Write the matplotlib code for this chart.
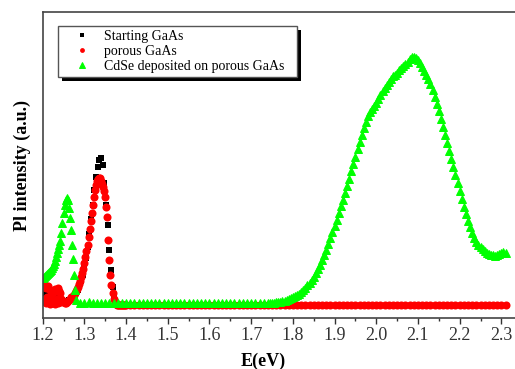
import numpy as np
import matplotlib
matplotlib.use("Agg")
import matplotlib.pyplot as plt
from matplotlib.ticker import MultipleLocator
from matplotlib.patches import Rectangle
from matplotlib.transforms import IdentityTransform

plt.rcParams['font.family'] = ['Liberation Serif', 'DejaVu Serif']

# Starting GaAs (black squares)
black_e = np.linspace(1.200, 1.400, 51)
black_i = [10, 14, 8, 12, 15, 9, 13, 11, 7, 10,
           6, 4, 3, 3, 3, 4, 5, 6, 7, 8,
           12, 15, 19, 24, 30, 38, 47, 58, 71, 86,
           100, 115, 128, 138, 145, 147, 140, 122, 100, 80,
           55, 35, 18, 7, 2, 0, 0, 0, 0, 0,
           0]

# porous GaAs (red circles)
red_e_noise = np.linspace(1.200, 1.245, 31)
red_i_noise = [18, 4, 19, 6, 20, 2, 17, 8, 19, 3,
               16, 1, 9, 5, 10, 2, 12, 4, 14, 1,
               16, 3, 15, 6, 17, 2, 14, 5, 12, 3, 6]
red_e_peak = np.linspace(1.2475, 1.3975, 61)
red_i_peak = [5, 3, 2, 2, 3, 4, 5, 6, 8,
              8, 9, 10, 12, 14, 16, 18, 21, 24, 28,
              32, 36, 42, 48, 54, 60, 68, 76, 84, 92,
              100, 108, 115, 120, 124, 126, 127, 127, 124, 121,
              118, 114, 108, 98, 88, 65, 45, 30, 20, 12,
              6, 3, 1,
              0, 0, 0, 0, 0, 0, 0, 0, 0]
red_e_tail = np.linspace(1.40, 2.31, 92)
red_i_tail = [0] * 92

# CdSe deposited on porous GaAs (green triangles)
green_e1 = np.linspace(1.200, 1.280, 33)
green_i1 = [27, 28, 29, 30, 31, 32, 33, 34, 35, 37,
            39, 41, 44, 48, 52, 56, 60, 64, 72, 82,
            92, 100, 105, 107, 105, 97, 87, 75, 60, 46,
            30, 15, 5]
green_e2 = np.linspace(1.29, 1.74, 46)
green_i2 = [2, 2, 3, 2, 2, 2, 2, 2, 2, 2,
            2, 2, 2, 2, 2, 2, 2, 2, 2, 2,
            2, 2, 2, 2, 2, 2, 2, 2, 2, 2,
            2, 2, 2, 2, 2, 2, 2, 2, 2, 2,
            2, 2, 2, 2, 2, 2]
green_e3 = np.linspace(1.745, 2.310, 114)
green_i3 = [2, 2, 2, 3, 3, 3, 4, 4, 5, 6,
            7, 8, 9, 10, 11, 13, 15, 17, 20, 22,
            25, 28, 32, 36, 40, 45, 50, 55, 61, 67,
            73, 79, 85, 92, 99, 105, 112, 119, 126, 134,
            141, 148, 156, 163, 170, 177, 183, 189, 193, 196,
            199, 202, 206, 210, 214, 217, 220, 223, 226, 229,
            230, 232, 235, 237, 239, 241, 243, 246, 248, 248,
            247, 245, 242, 238, 234, 230, 226, 221, 215, 208,
            201, 194, 186, 178, 170, 162, 154, 146, 138, 130,
            122, 114, 106, 98, 91, 84, 78, 72, 67, 63,
            60, 58, 56, 54, 52, 51, 50, 50, 49, 50,
            51, 52, 53, 52]

red_e = np.concatenate([red_e_noise, red_e_peak, red_e_tail])
red_i = red_i_noise + red_i_peak + red_i_tail
green_e = np.concatenate([green_e1, green_e2, green_e3])
green_i = green_i1 + green_i2 + green_i3

fig = plt.figure(figsize=(5.15, 3.69), dpi=100)
ax = fig.add_axes([0.0829, 0.138, 0.923, 0.8295])

ax.plot(black_e, black_i, 's', color='black', ms=5, mew=0, label='Starting GaAs')
ax.plot(red_e, red_i, 'o', color='#ff0000', ms=5.8, mew=0, label='porous GaAs')
ax.plot(green_e, green_i, '^', color='#00ff00', ms=6.3, mew=0.7, mec='#00ff00',
        label='CdSe deposited on porous GaAs')

ax.set_xlim(1.2, 2.34)
ax.set_ylim(-13, 293)

ax.xaxis.set_minor_locator(MultipleLocator(0.05))
ticks = np.arange(1.2, 2.31, 0.1)
ax.set_xticks(ticks)
ax.set_xticklabels([f'{v:.1f}' for v in ticks])
ax.tick_params(axis='x', which='major', direction='out', length=4.5, width=1,
               labelsize=13, pad=2, colors='#333333')
ax.tick_params(axis='x', which='minor', direction='out', length=2.5, width=1,
               colors='#333333')
ax.set_yticks([])

for s in ax.spines.values():
    s.set_linewidth(1.2)
    s.set_color('#444444')

ax.set_xlabel('E(eV)', fontsize=13, fontweight='bold')
ax.set_ylabel('Pl intensity (a.u.)', fontsize=13, fontweight='bold')
ax.xaxis.set_label_coords(0.463, -0.112)
ax.yaxis.set_label_coords(-0.024, 0.497)

leg = ax.legend(loc='upper left', bbox_to_anchor=(0.0322, 0.787, 0.503, 0.167),
                mode='expand', borderaxespad=0,
                fontsize=10, frameon=True, fancybox=False, markerscale=0.6,
                handlelength=2.9, handletextpad=0.1, labelspacing=0.12,
                borderpad=0.3, edgecolor='#555555', framealpha=1)
leg.get_frame().set_linewidth(1.0)

# thick black drop shadow behind the legend box
fig.canvas.draw()
bb = leg.get_window_extent()
ax.add_artist(Rectangle((bb.x0 + 4, bb.y0 - 4), bb.width, bb.height,
                        transform=IdentityTransform(), facecolor='black',
                        edgecolor='none', zorder=4.9))

fig.savefig('out.png', dpi=100)
